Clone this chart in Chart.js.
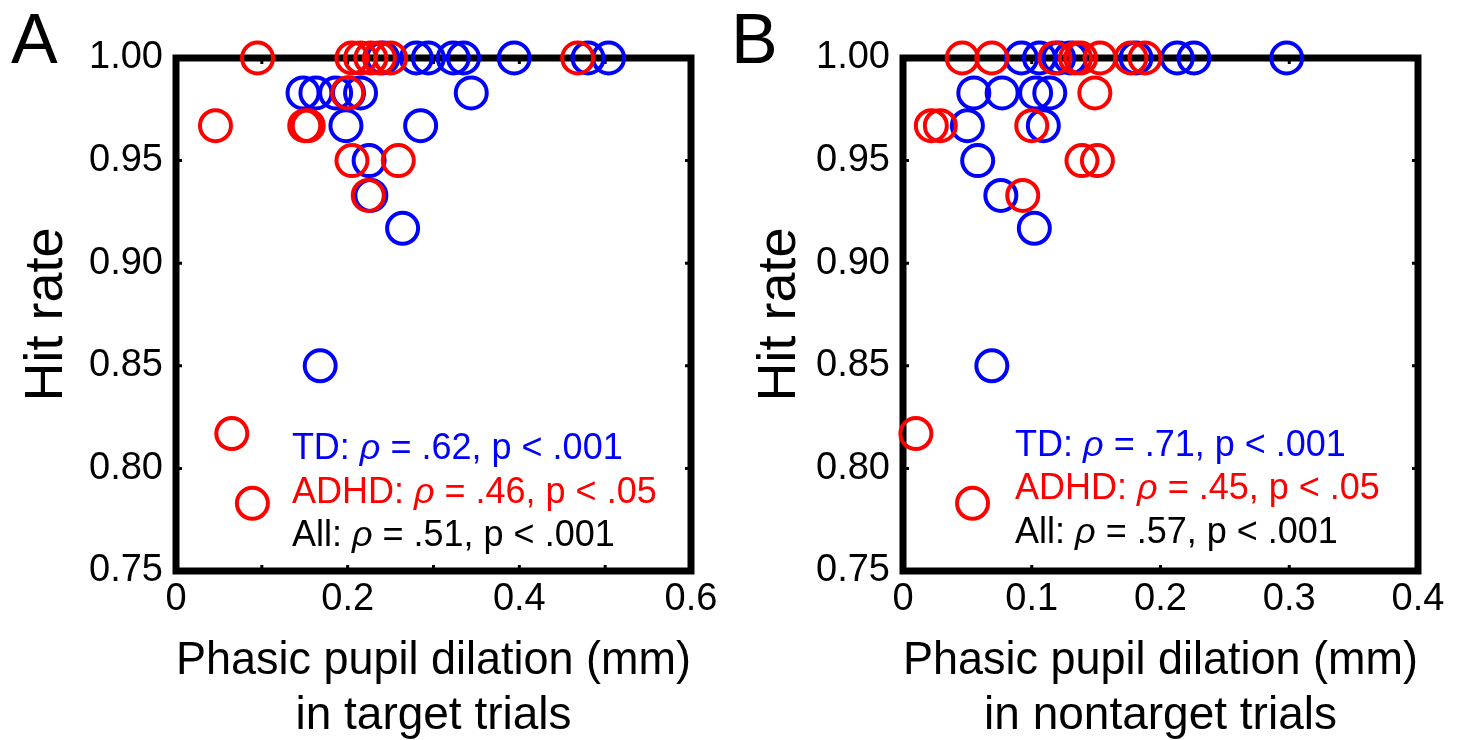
<!DOCTYPE html>
<html>
<head>
<meta charset="utf-8">
<script src="https://cdn.jsdelivr.net/npm/chart.js@4/dist/chart.umd.min.js"></script>
<style>
  body { margin: 0; background: #fff; }
  .panel { position: absolute; top: 0; width: 733px; height: 740px; }
</style>
</head>
<body>
<div class="panel" style="left:0"><canvas id="chartA" width="733" height="740"></canvas></div>
<div class="panel" style="left:733px"><canvas id="chartB" width="733" height="740"></canvas></div>
<script>
// A: target trials
var tdTargetX = [0.241, 0.280, 0.294, 0.323, 0.335, 0.394, 0.480, 0.504,
                 0.148, 0.163, 0.186, 0.201, 0.215, 0.344,
                 0.198, 0.285, 0.225, 0.227, 0.264, 0.168];
var tdTargetY = [1, 1, 1, 1, 1, 1, 1, 1,
                 0.983, 0.983, 0.983, 0.983, 0.983, 0.983,
                 0.967, 0.967, 0.95, 0.933, 0.917, 0.85];
var adhdTargetX = [0.095, 0.205, 0.215, 0.227, 0.237, 0.250, 0.468,
                   0.200, 0.046, 0.150, 0.154, 0.205, 0.259, 0.224, 0.065, 0.089];
var adhdTargetY = [1, 1, 1, 1, 1, 1, 1,
                   0.983, 0.967, 0.967, 0.967, 0.95, 0.95, 0.933, 0.817, 0.783];

// B: nontarget trials
var tdNontargetX = [0.092, 0.106, 0.121, 0.130, 0.181, 0.213, 0.226, 0.298,
                    0.055, 0.077, 0.103, 0.114, 0.050, 0.109, 0.058, 0.076, 0.102, 0.069];
var tdNontargetY = [1, 1, 1, 1, 1, 1, 1, 1,
                    0.983, 0.983, 0.983, 0.983, 0.967, 0.967, 0.95, 0.933, 0.917, 0.85];
var adhdNontargetX = [0.046, 0.069, 0.118, 0.134, 0.138, 0.153, 0.177, 0.188,
                      0.149, 0.022, 0.029, 0.100, 0.139, 0.151, 0.093, 0.010, 0.054];
var adhdNontargetY = [1, 1, 1, 1, 1, 1, 1, 1,
                      0.983, 0.967, 0.967, 0.967, 0.95, 0.95, 0.933, 0.817, 0.783];

// ticks
var hitRateTicks = [0.75, 0.80, 0.85, 0.90, 0.95, 1.00];
var targetTicks = [0, 0.1, 0.2, 0.3, 0.4, 0.5, 0.6];
var targetTickLabels = ["0", "", "0.2", "", "0.4", "", "0.6"];
var nontargetTicks = [0, 0.1, 0.2, 0.3, 0.4];
var nontargetTickLabels = ["0", "0.1", "0.2", "0.3", "0.4"];

// stats text
var groupNames = ["TD:", "ADHD:", "All:"];
var groupColors = ["#0000ff", "#ff0000", "#000000"];
var statsTarget = [" = .62, p < .001", " = .46, p < .05", " = .51, p < .001"];
var statsNontarget = [" = .71, p < .001", " = .45, p < .05", " = .57, p < .001"];

var FONT = '"Liberation Sans", Arial, Helvetica, sans-serif';
Chart.defaults.font.family = FONT;
Chart.defaults.color = "#000";

function toPoints(xs, ys) {
  return xs.map(function (x, i) { return { x: x, y: ys[i] }; });
}

function panelPlugin(o) {
  return {
    id: "panel" + o.letter,
    beforeDatasetsDraw: function (chart) {
      var ctx = chart.ctx, a = chart.chartArea;
      var xs = chart.scales.x, ys = chart.scales.y;
      ctx.save();
      ctx.strokeStyle = "#000";
      ctx.lineWidth = 3;
      ctx.beginPath();
      // small inward ticks
      xs.ticks.forEach(function (t) {
        var p = xs.getPixelForValue(t.value);
        ctx.moveTo(p, a.bottom); ctx.lineTo(p, a.bottom - 6);
        ctx.moveTo(p, a.top); ctx.lineTo(p, a.top + 6);
      });
      ys.ticks.forEach(function (t) {
        var p = ys.getPixelForValue(t.value);
        ctx.moveTo(a.left, p); ctx.lineTo(a.left + 6, p);
        ctx.moveTo(a.right, p); ctx.lineTo(a.right - 6, p);
      });
      ctx.stroke();
      ctx.lineWidth = 7;
      ctx.lineJoin = "miter";
      ctx.strokeRect(a.left, a.top, a.right - a.left, a.bottom - a.top);
      ctx.restore();
    },
    afterDatasetsDraw: function (chart) {
      var ctx = chart.ctx;
      var xs = chart.scales.x, ys = chart.scales.y;
      ctx.save();
      ctx.textBaseline = "alphabetic";
      ctx.textAlign = "left";
      for (var i = 0; i < groupNames.length; i++) {
        var x = xs.getPixelForValue(o.statsX);
        var y = ys.getPixelForValue(o.statsY[i]);
        ctx.fillStyle = groupColors[i];
        ctx.font = "36px " + FONT;
        ctx.fillText(groupNames[i] + " ", x, y);
        x += ctx.measureText(groupNames[i] + " ").width;
        ctx.font = "italic 36px " + FONT;
        ctx.fillText("\u03c1", x, y);
        x += ctx.measureText("\u03c1").width;
        ctx.font = "36px " + FONT;
        ctx.fillText(o.stats[i], x, y);
      }
      // panel letter
      ctx.fillStyle = "#000";
      ctx.font = "70px " + FONT;
      ctx.fillText(o.letter, o.letterX, 63);
      ctx.restore();
    }
  };
}

function makeChart(o) {
  var ctx = document.getElementById(o.canvas).getContext("2d");
  return new Chart(ctx, {
    type: "scatter",
    data: {
      datasets: [{
        label: "ADHD",
        data: toPoints(o.adhdX, o.adhdY),
        borderColor: "#ff0000",
        backgroundColor: "rgba(0,0,0,0)",
        borderWidth: 4,
        pointRadius: 15.5,
        clip: false,
        order: 0
      }, {
        label: "TD",
        data: toPoints(o.tdX, o.tdY),
        borderColor: "#0000ff",
        backgroundColor: "rgba(0,0,0,0)",
        borderWidth: 4,
        pointRadius: 15.5,
        clip: false,
        order: 1
      }]
    },
    options: {
      responsive: false,
      animation: false,
      events: [],
      layout: { padding: { left: 0, right: o.padRight, top: 58, bottom: 0 } },
      plugins: { legend: { display: false }, tooltip: { enabled: false } },
      scales: {
        x: {
          type: "linear",
          min: o.xTicks[0],
          max: o.xTicks[o.xTicks.length - 1],
          afterBuildTicks: function (s) {
            s.ticks = o.xTicks.map(function (v) { return { value: v }; });
          },
          afterFit: function (s) { s.height = 169; },
          grid: { display: false, drawTicks: false },
          border: { display: false },
          ticks: {
            font: { size: 38 },
            padding: 6,
            maxRotation: 0,
            autoSkip: false,
            callback: function (v, i) { return o.xTickLabels[i]; }
          },
          title: {
            display: true,
            text: ["Phasic pupil dilation (mm)", o.xSub],
            font: { size: 46 },
            padding: { top: 0, bottom: -4 }
          }
        },
        y: {
          type: "linear",
          min: 0.75,
          max: 1.0,
          afterBuildTicks: function (s) {
            s.ticks = hitRateTicks.map(function (v) { return { value: v }; });
          },
          afterFit: function (s) { s.width = o.yWidth; },
          grid: { display: false, drawTicks: false },
          border: { display: false },
          ticks: {
            font: { size: 38 },
            padding: 13,
            autoSkip: false,
            callback: function (v) { return Number(v).toFixed(2); }
          },
          title: {
            display: true,
            text: "Hit rate",
            font: { size: 54 },
            padding: { top: 15, bottom: 0 }
          }
        }
      }
    },
    plugins: [panelPlugin(o)]
  });
}

makeChart({
  canvas: "chartA", letter: "A", letterX: 11,
  tdX: tdTargetX, tdY: tdTargetY, adhdX: adhdTargetX, adhdY: adhdTargetY,
  xTicks: targetTicks, xTickLabels: targetTickLabels, xSub: "in target trials",
  yWidth: 176, padRight: 42,
  stats: statsTarget, statsX: 0.135, statsY: [0.8047, 0.7832, 0.762]
});

makeChart({
  canvas: "chartB", letter: "B", letterX: -2,
  tdX: tdNontargetX, tdY: tdNontargetY, adhdX: adhdNontargetX, adhdY: adhdNontargetY,
  xTicks: nontargetTicks, xTickLabels: nontargetTickLabels, xSub: "in nontarget trials",
  yWidth: 170, padRight: 48,
  stats: statsNontarget, statsX: 0.087, statsY: [0.806, 0.785, 0.7637]
});
</script>
</body>
</html>
